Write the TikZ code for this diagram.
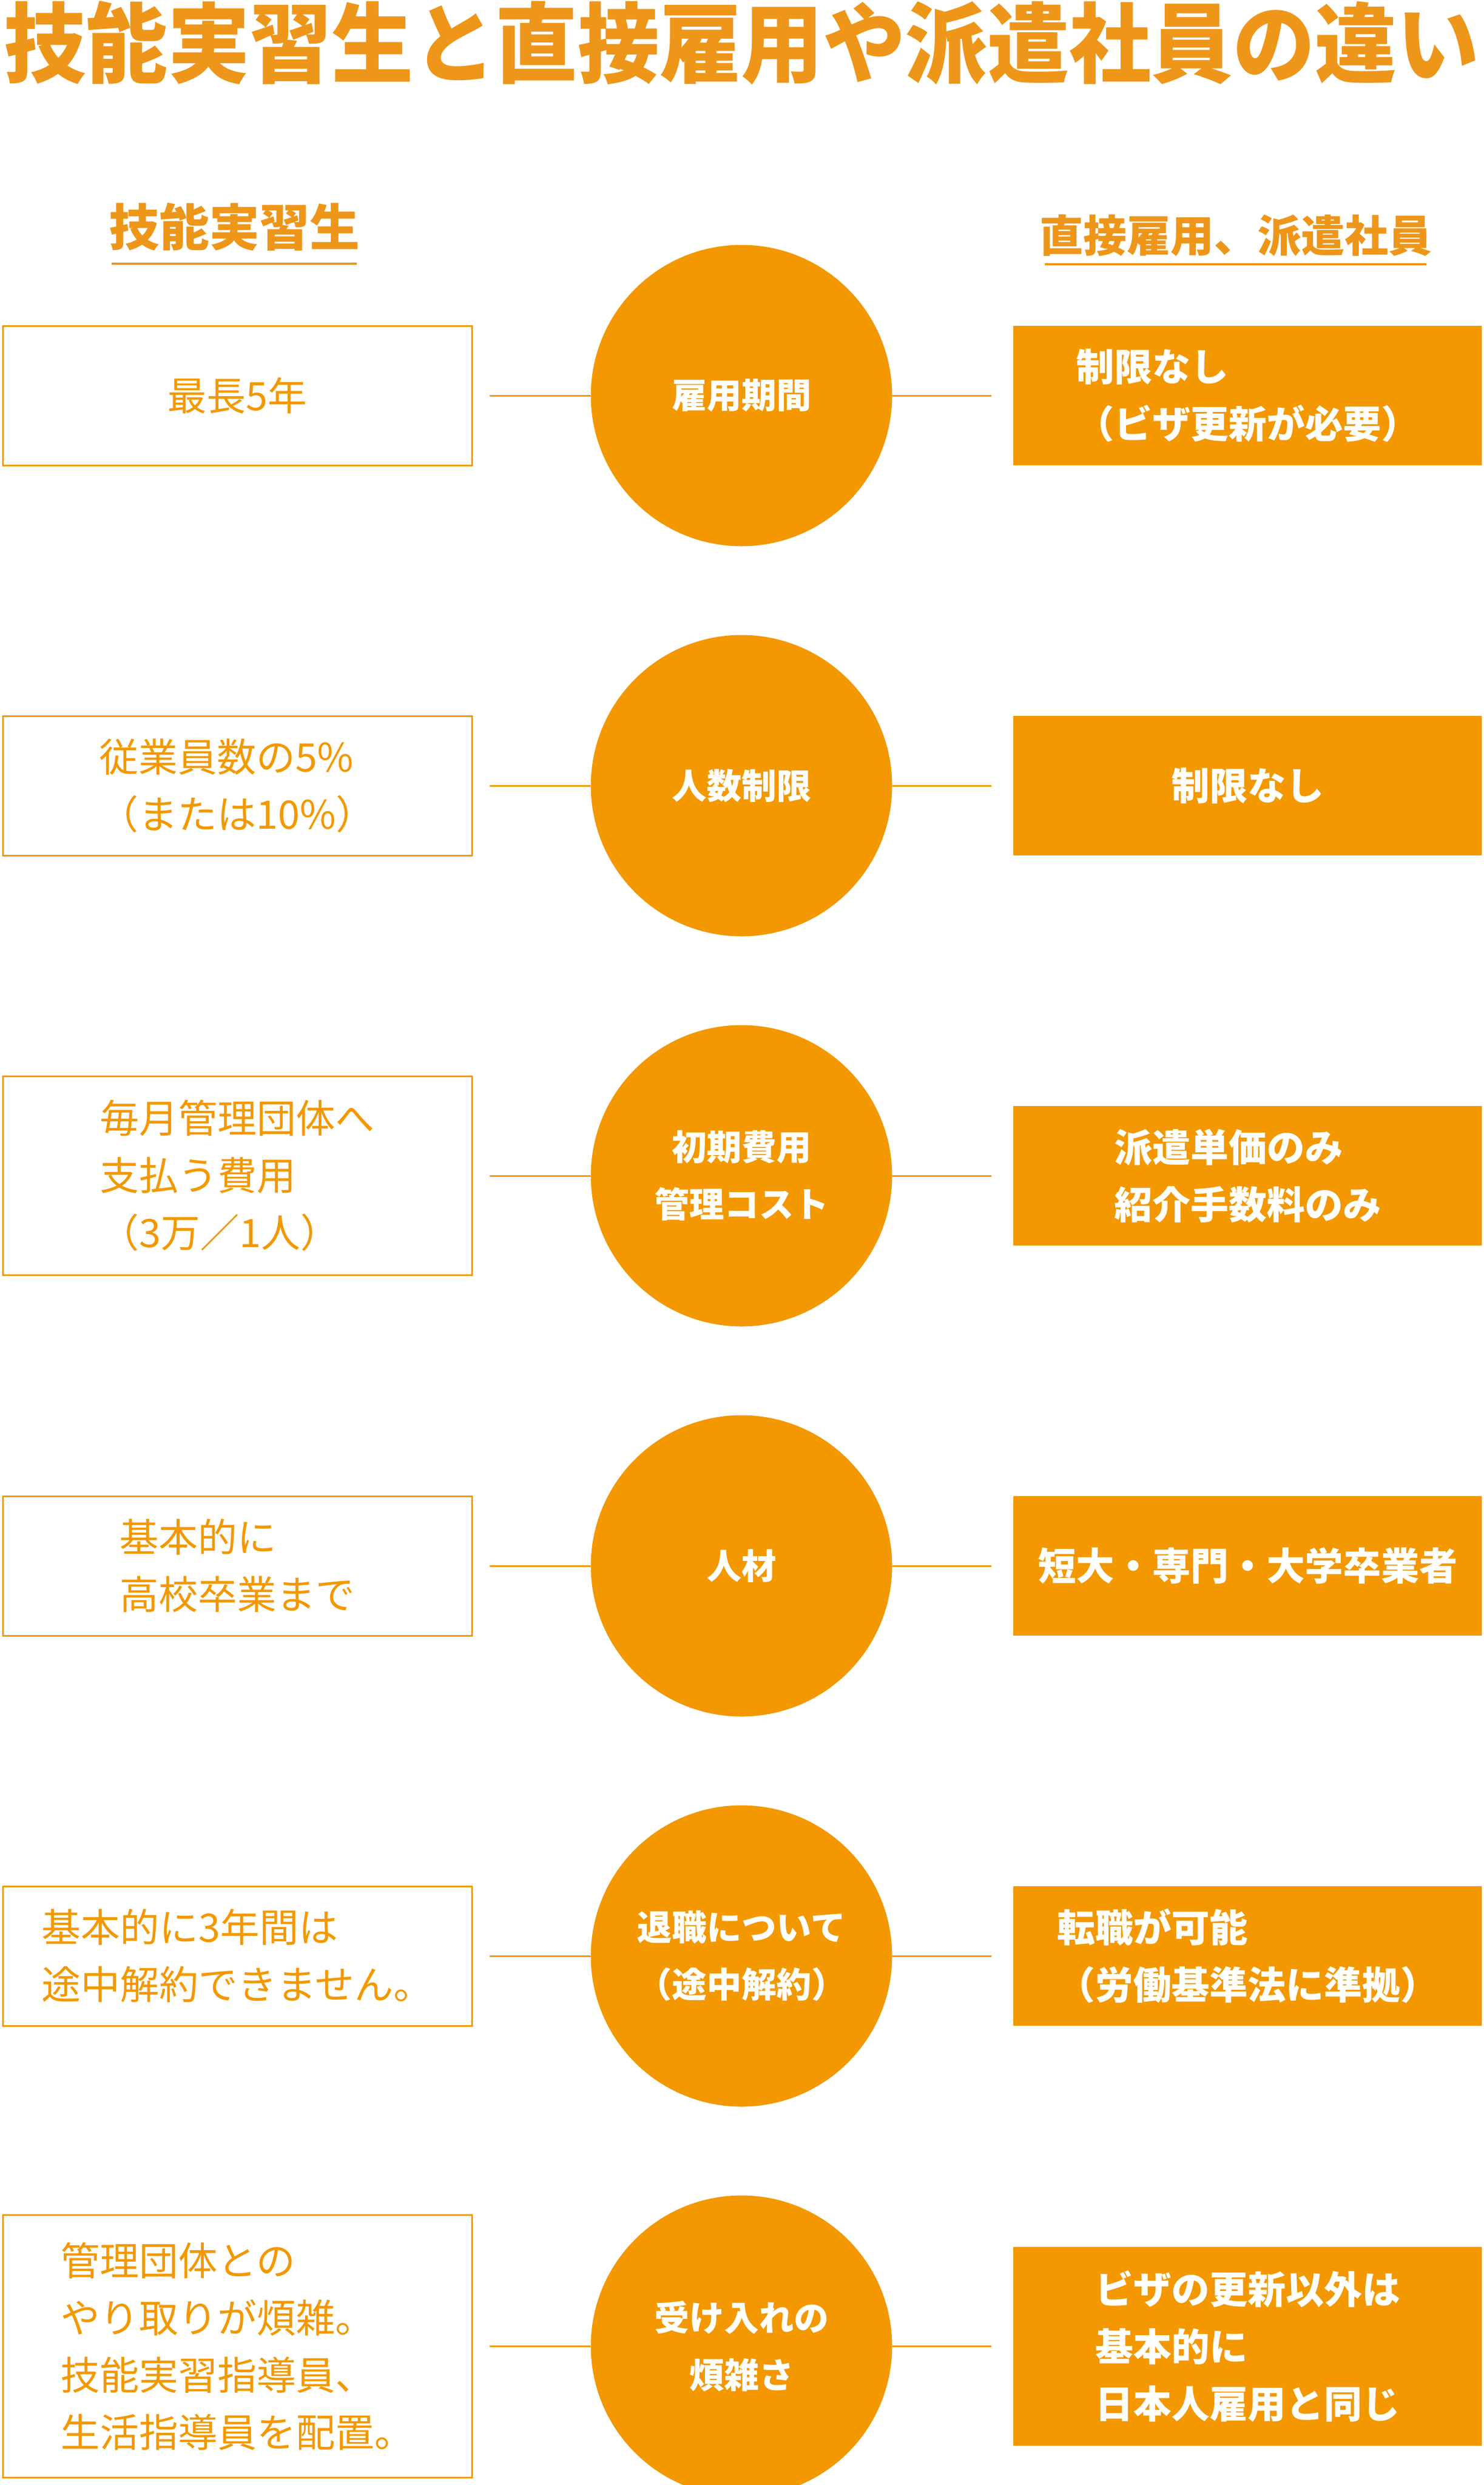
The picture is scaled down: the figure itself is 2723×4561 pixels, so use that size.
\documentclass[tikz,border=0pt]{standalone}
\usepackage{fontspec}
\newfontfamily\jp{Noto Sans CJK JP}
\definecolor{org}{HTML}{F39800}
\definecolor{ttl}{HTML}{EE961A}
\begin{document}
\begin{tikzpicture}[x=1pt,y=-1pt,
  lbox/.style={draw=org,line width=3pt,fill=white,minimum width=861pt,minimum height=256pt,inner sep=0pt},
  rbox/.style={fill=org,minimum width=860pt,minimum height=256pt,inner sep=0pt},
  circ/.style={circle,fill=org,minimum size=553pt,inner sep=0pt},
  ltxt/.style={text=org,font=\jp\fontsize{72}{105}\selectfont,align=left},
  rtxt/.style={text=white,font=\jp\bfseries\fontsize{70}{105}\selectfont,align=left},
  ctxt/.style={text=white,font=\jp\bfseries\fontsize{64}{105}\selectfont,align=center},
  conn/.style={draw=org,line width=3pt}]
\useasboundingbox (0,0) rectangle (2723,4561);
\node[text=ttl,font=\jp\bfseries\fontsize{160}{160}\selectfont,xscale=0.94,transform shape,inner sep=0pt] (title) at (1361,79) {技能実習生と直接雇用や派遣社員の違い};
\node[text=ttl,font=\jp\bfseries\fontsize{92}{92}\selectfont] (hl) at (430,416) {技能実習生};
\draw[draw=ttl,line width=4pt] (205,484) -- (655,484);
\node[text=ttl,font=\jp\bfseries\fontsize{80}{80}\selectfont] (hr) at (2268,432) {直接雇用、派遣社員};
\draw[draw=ttl,line width=4pt] (1918,485) -- (2618,485);
% rows
\foreach \i/\y/\lt/\ct/\rt/\lh/\rh in {
 1/726/{最長5年}/{雇用期間}/{制限なし\\（ビザ更新が必要）}/256/256,
 2/1442/{従業員数の5\%\\（または10\%）}/{人数制限}/{制限なし}/256/256,
 3/2158/{毎月管理団体へ\\支払う費用\\（3万／1人）}/{初期費用\\管理コスト}/{派遣単価のみ\\紹介手数料のみ}/365/256,
 4/2874/{基本的に\\高校卒業まで}/{人材}/{短大・専門・大学卒業者}/256/256,
 5/3590/{基本的に3年間は\\途中解約できません。}/{退職について\\（途中解約）}/{転職が可能\\（労働基準法に準拠）}/256/256,
 6/4306/{管理団体との\\やり取りが煩雑。\\技能実習指導員、\\生活指導員を配置。}/{受け入れの\\煩雑さ}/{ビザの更新以外は\\基本的に\\日本人雇用と同じ}/482/365}{
  \node[lbox,minimum height=\lh pt] (l\i) at (435.5,\y) {};
  \node[ltxt] (lt\i) at (l\i) {\lt};
  \node[rbox,minimum height=\rh pt] (r\i) at (2290,\y) {};
  \node[rtxt] (rt\i) at (r\i) {\rt};
  \node[circ] (c\i) at (1361,\y) {};
  \node[ctxt] (ct\i) at (c\i) {\ct};
  \coordinate (la\i) at (899,\y);
  \coordinate (rb\i) at (1820,\y);
  \draw[conn] (la\i) -- (c\i.west);
  \draw[conn] (c\i.east) -- (rb\i);
}
\end{tikzpicture}
\end{document}
